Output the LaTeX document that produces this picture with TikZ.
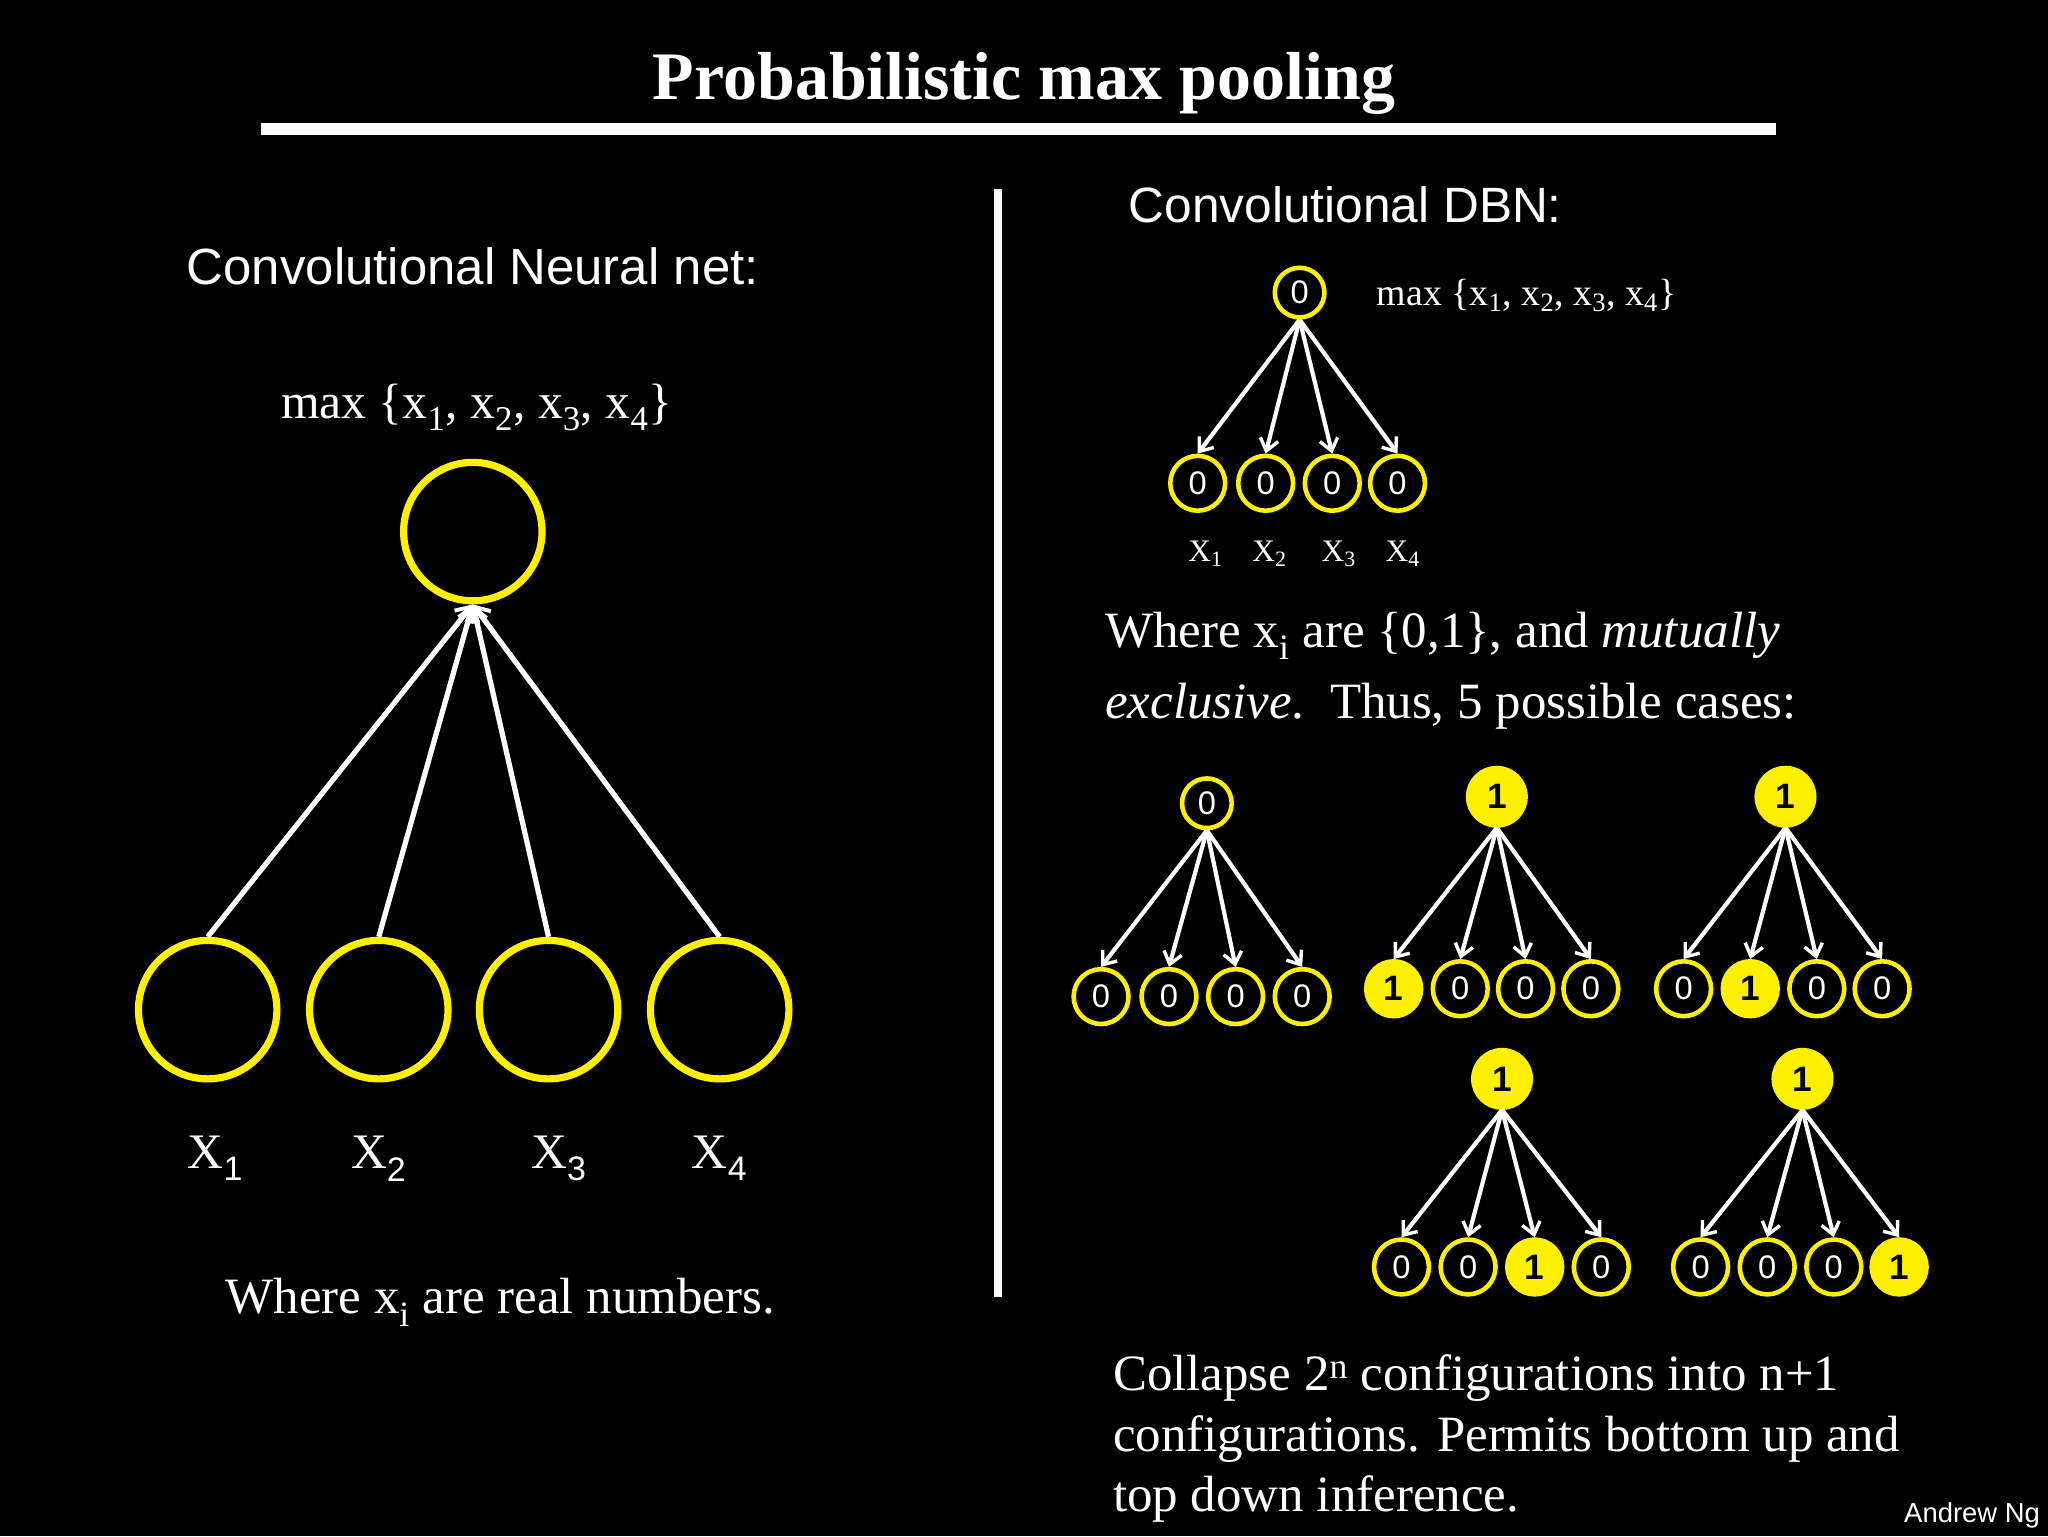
\documentclass[tikz,border=0pt]{standalone}
\usepackage{fontspec}
\setmainfont{Liberation Serif}
\setsansfont{Liberation Sans}
\usetikzlibrary{arrows.meta}
\definecolor{yel}{RGB}{255,240,0}
\tikzset{
  arr/.style={white,line width=3.2pt,-{Straight Barb[length=9pt,width=14pt,line width=2.6pt]}},
  bigarr/.style={white,line width=4pt,-{Straight Barb[length=10pt,width=16pt,line width=3pt]}},
  bigc/.style={circle,draw=yel,line width=5.5pt,minimum size=106pt,inner sep=0pt},
  zc/.style={circle,draw=yel,fill=black,line width=3.5pt,minimum size=38pt,inner sep=0pt,text=white,font=\sffamily\fontsize{25}{25}\selectfont},
  oc/.style={circle,draw=yel,fill=yel,line width=3.5pt,minimum size=42pt,inner sep=0pt,text=black,font=\sffamily\bfseries\fontsize{27}{27}\selectfont},
  txt/.style={text=white,inner sep=0pt},
}
\begin{document}
\begin{tikzpicture}[x=1pt,y=-1pt]
\fill[black] (0,0) rectangle (1568,1176);
\useasboundingbox (0,0) rectangle (1568,1176);
% title
\node[txt,font=\bfseries\fontsize{52}{52}\selectfont] (title) at (784,64) {Probabilistic max pooling};
\draw[white,line width=9pt] (200,99) coordinate (r1) -- (1360,99) coordinate (r2);
\draw[white,line width=6pt] (764,145) coordinate (v1) -- (764,993) coordinate (v2);
% left
\node[txt,font=\sffamily\fontsize{39}{39}\selectfont] (cnn) at (362,204) {Convolutional Neural net:};
\node[txt,font=\fontsize{38}{38}\selectfont] (lmax) at (365,312) {max \{x\textsubscript{1}, x\textsubscript{2}, x\textsubscript{3}, x\textsubscript{4}\}};
\node[bigc] (T) at (362,407) {};
\foreach \i/\x in {1/159,2/290,3/420,4/551}{
  \node[bigc] (B\i) at (\x,773) {};
  \draw[bigarr] (B\i.north) -- (T.south);
}
\foreach \i/\x in {1/165,2/290,3/428,4/551}{
  \node[txt,font=\fontsize{38}{38}\selectfont] (X\i) at (\x,887) {X\textsubscript{\sffamily\fontsize{26}{26}\selectfont\i}};
}
\node[txt,font=\fontsize{39}{39}\selectfont] (lw) at (383,997) {Where x\textsubscript{i} are real numbers.};
% right
\node[txt,font=\sffamily\fontsize{38}{38}\selectfont] (dbn) at (1030,157) {Convolutional DBN:};
\node[zc] (t0) at (995,224) {0};
\node[txt,font=\fontsize{29}{29}\selectfont,anchor=west] (rmax) at (1054,226) {max \{x\textsubscript{1}, x\textsubscript{2}, x\textsubscript{3}, x\textsubscript{4}\}};
\foreach \i/\x in {1/917,2/969,3/1020,4/1070}{
  \node[zc,minimum size=42pt] (b0\i) at (\x,370) {0};
  \draw[arr] (t0.south) -- (b0\i.north);
}
\foreach \i/\x in {1/923,2/972,3/1025,4/1074}{
  \node[txt,font=\fontsize{24}{24}\selectfont] (xl\i) at (\x,424) {X\textsubscript{\i}};
}
\node[txt,anchor=west,font=\fontsize{39}{39}\selectfont] (w1) at (846,487) {Where x\textsubscript{i} are \{0,1\}, and \textit{mutually}};
\node[txt,anchor=west,font=\fontsize{39}{39}\selectfont] (w2) at (846,541) {\textit{exclusive}.\ \ Thus, 5 possible cases:};
% case 1
\node[zc] (c1t) at (924,615) {0};
\foreach \i/\x in {1/843,2/895,3/946,4/997}{
  \node[zc,minimum size=42pt] (c1b\i) at (\x,763) {0};
  \draw[arr] (c1t.south) -- (c1b\i.north);
}
% cases 2-5
\foreach \c/\tx/\ty/\by/\xa/\xb/\xc/\xd/\one in {2/1146/610/757/1067/1118/1168/1218/1,3/1367/610/757/1289/1340/1391/1441/2,4/1150/826/970/1073/1124/1175/1226/3,5/1380/826/970/1302/1353/1404/1454/4}{
  \node[oc,minimum size=44pt] (c\c t) at (\tx,\ty) {1};
  \foreach \i/\x in {1/\xa,2/\xb,3/\xc,4/\xd}{
    \ifnum\i=\one
      \node[oc] (c\c b\i) at (\x,\by) {1};
    \else
      \node[zc,minimum size=42pt] (c\c b\i) at (\x,\by) {0};
    \fi
    \draw[arr] (c\c t.south) -- (c\c b\i.north);
  }
}
\node[txt,anchor=west,font=\fontsize{39}{39}\selectfont] (p1) at (852,1055) {Collapse 2\textsuperscript{n} configurations into n+1};
\node[txt,anchor=west,font=\fontsize{39}{39}\selectfont] (p2) at (852,1102) {configurations. Permits bottom up and};
\node[txt,anchor=west,font=\fontsize{39}{39}\selectfont] (p3) at (852,1148) {top down inference.};
\node[txt,font=\sffamily\fontsize{21}{21}\selectfont,anchor=east] (ng) at (1562,1160) {Andrew Ng};
\end{tikzpicture}
\end{document}
